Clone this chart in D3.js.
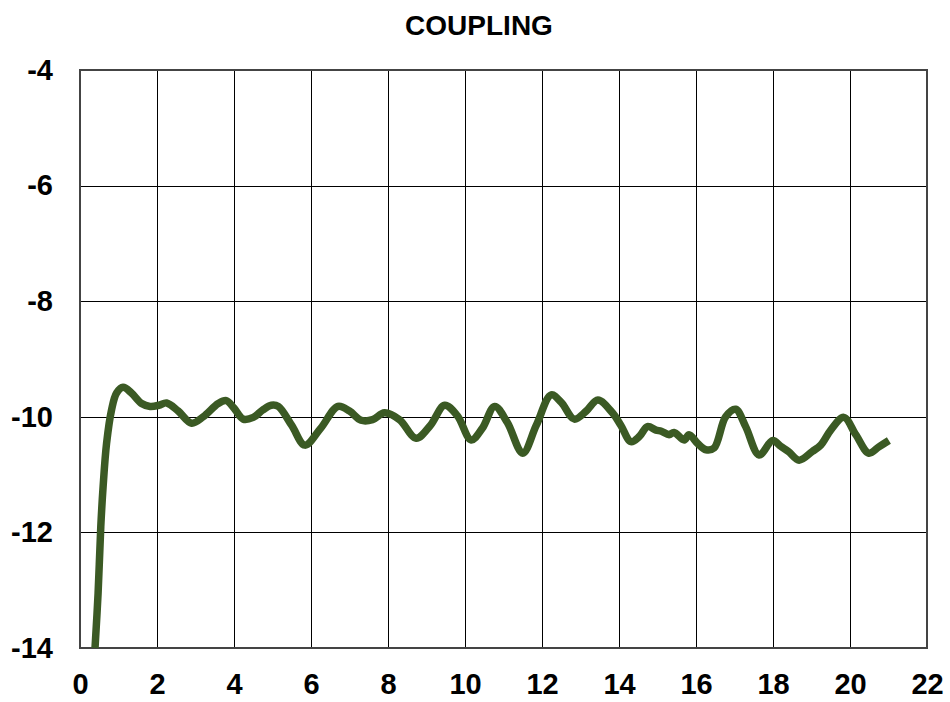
<!DOCTYPE html>
<html>
<head>
<meta charset="utf-8">
<script src="https://cdn.jsdelivr.net/npm/d3@7"></script>
<style>
  body { margin: 0; background: white; }
</style>
</head>
<body>
<div id="chart"></div>
<script>
// chart values
const freq = [0.39, 0.47, 0.54, 0.60, 0.69, 0.82, 0.95, 1.12, 1.34, 1.60, 1.82, 2.05, 2.25, 2.55, 2.90, 3.20, 3.59, 3.80, 4.00, 4.24, 4.50, 4.75, 4.97, 5.15, 5.50, 5.84, 6.25, 6.70, 7.00, 7.30, 7.60, 7.91, 8.30, 8.73, 9.10, 9.47, 9.80, 10.16, 10.45, 10.77, 11.10, 11.50, 11.85, 12.24, 12.50, 12.84, 13.15, 13.45, 13.84, 14.05, 14.31, 14.53, 14.74, 14.96, 15.10, 15.30, 15.43, 15.69, 15.82, 16.04, 16.26, 16.47, 16.77, 17.03, 17.29, 17.64, 17.99, 18.20, 18.40, 18.68, 19.02, 19.24, 19.50, 19.84, 20.15, 20.49, 20.75, 21.01];
const coupling = [-14.0, -13.05, -11.90, -11.21, -10.46, -9.88, -9.59, -9.49, -9.59, -9.77, -9.82, -9.80, -9.76, -9.90, -10.11, -10.00, -9.77, -9.72, -9.85, -10.04, -10.01, -9.88, -9.80, -9.82, -10.15, -10.49, -10.20, -9.82, -9.90, -10.06, -10.05, -9.93, -10.05, -10.37, -10.15, -9.80, -9.98, -10.40, -10.20, -9.82, -10.10, -10.63, -10.15, -9.62, -9.75, -10.04, -9.90, -9.71, -9.94, -10.15, -10.43, -10.34, -10.17, -10.23, -10.25, -10.31, -10.27, -10.40, -10.31, -10.46, -10.57, -10.54, -10.00, -9.87, -10.17, -10.66, -10.41, -10.51, -10.60, -10.75, -10.60, -10.49, -10.23, -10.01, -10.31, -10.63, -10.52, -10.41];
const xTicks = [0, 2, 4, 6, 8, 10, 12, 14, 16, 18, 20, 22];
const yTicks = [-4, -6, -8, -10, -12, -14];
const title = "COUPLING";

const width = 950;
const height = 702;
const margin = { top: 70, right: 23, bottom: 54, left: 80 };
const font = "Liberation Sans, Arial, sans-serif";

const svg = d3.select("#chart")
  .append("svg")
  .attr("width", width)
  .attr("height", height)
  .style("background-color", "white");

const x = d3.scaleLinear()
  .domain([0, 22])
  .range([margin.left, width - margin.right]);

const y = d3.scaleLinear()
  .domain([-14, -4])
  .range([height - margin.bottom, margin.top]);

// title
svg.append("text")
  .attr("x", 479)
  .attr("y", 35)
  .attr("text-anchor", "middle")
  .style("font-family", font)
  .style("font-weight", "bold")
  .style("font-size", "28px")
  .text(title);

// grid lines
svg.append("g")
  .selectAll("line")
  .data(xTicks)
  .enter().append("line")
  .attr("x1", d => Math.round(x(d)) + 0.5)
  .attr("x2", d => Math.round(x(d)) + 0.5)
  .attr("y1", y(-4))
  .attr("y2", y(-14))
  .attr("stroke", "black")
  .attr("stroke-width", 1);

svg.append("g")
  .selectAll("line")
  .data(yTicks)
  .enter().append("line")
  .attr("x1", x(0))
  .attr("x2", x(22))
  .attr("y1", d => Math.round(y(d)) + 0.5)
  .attr("y2", d => Math.round(y(d)) + 0.5)
  .attr("stroke", "black")
  .attr("stroke-width", 1);

// plot frame
svg.append("rect")
  .attr("x", x(0))
  .attr("y", y(-4))
  .attr("width", x(22) - x(0))
  .attr("height", y(-14) - y(-4))
  .attr("fill", "none")
  .attr("stroke", "#444")
  .attr("stroke-width", 2);

// axes labels (no tick marks), plain hyphen for minus
const xAxis = d3.axisBottom(x).tickValues(xTicks).tickSize(0).tickPadding(25)
  .tickFormat(d => String(d));
const yAxis = d3.axisLeft(y).tickValues(yTicks).tickSize(0).tickPadding(27)
  .tickFormat(d => String(d));

svg.append("g")
  .attr("transform", `translate(0,${y(-14)})`)
  .call(xAxis)
  .call(g => g.select(".domain").remove())
  .selectAll("text")
  .style("font-family", font)
  .style("font-weight", "bold")
  .style("font-size", "29px")
  .attr("fill", "black");

svg.append("g")
  .attr("transform", `translate(${x(0)},0)`)
  .call(yAxis)
  .call(g => g.select(".domain").remove())
  .selectAll("text")
  .style("font-family", font)
  .style("font-weight", "bold")
  .style("font-size", "29px")
  .attr("fill", "black");

// the coupling curve
const line = d3.line()
  .x((d, i) => x(freq[i]))
  .y(d => y(d))
  .curve(d3.curveCatmullRom.alpha(0.5));

svg.append("path")
  .datum(coupling)
  .attr("d", line)
  .attr("fill", "none")
  .attr("stroke", "#3b5a24")
  .attr("stroke-width", 7.5)
  .attr("stroke-linejoin", "round");
</script>
</body>
</html>
